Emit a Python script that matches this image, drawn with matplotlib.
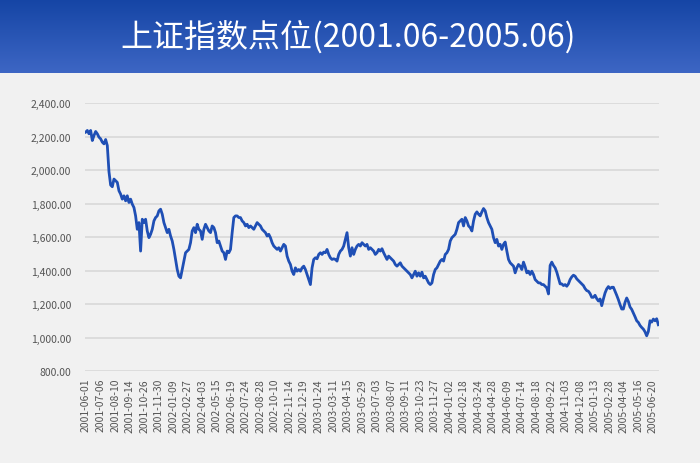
"""Shanghai Composite index level, 2001.06 - 2005.06 (recreated chart)."""

import matplotlib

matplotlib.use("Agg")
import matplotlib.pyplot as plt  # noqa: E402
import numpy as np  # noqa: E402
from matplotlib.colors import LinearSegmentedColormap  # noqa: E402
from matplotlib.ticker import FuncFormatter  # noqa: E402

plt.rcParams["font.family"] = ["Noto Sans CJK SC", "DejaVu Sans"]

TITLE = "上证指数点位(2001.06-2005.06)"

tick_dates = [
    "2001-06-01", "2001-07-06", "2001-08-10", "2001-09-14", "2001-10-26",
    "2001-11-30", "2002-01-09", "2002-02-27", "2002-04-03", "2002-05-15",
    "2002-06-19", "2002-07-24", "2002-08-28", "2002-10-10", "2002-11-14",
    "2002-12-19", "2003-01-24", "2003-03-11", "2003-04-15", "2003-05-29",
    "2003-07-03", "2003-08-07", "2003-09-11", "2003-10-23", "2003-11-27",
    "2004-01-02", "2004-02-18", "2004-03-24", "2004-04-28", "2004-06-09",
    "2004-07-14", "2004-08-18", "2004-09-22", "2004-11-03", "2004-12-08",
    "2005-01-13", "2005-02-28", "2005-04-04", "2005-05-16", "2005-06-20",
]

# index level at an even step along the x axis
index_2001 = [
    2226, 2236, 2216, 2236, 2176, 2206, 2230, 2216, 2196, 2186, 2166, 2156,
    2182, 2146, 1990, 1910, 1900, 1946, 1936, 1926, 1876, 1856, 1826, 1846,
    1816, 1846, 1806, 1826, 1796, 1776, 1726, 1646, 1686, 1516, 1706, 1686,
    1706, 1636, 1596, 1616, 1646, 1696, 1716, 1726, 1756, 1766, 1736, 1686,
    1656, 1626, 1646, 1606, 1576, 1526, 1466, 1406, 1366,
]
index_2002 = [
    1356, 1406, 1456, 1506, 1516, 1526, 1566, 1636, 1656, 1626, 1676, 1646,
    1636, 1586, 1646, 1676, 1656, 1636, 1626, 1666, 1656, 1626, 1566, 1576,
    1546, 1516, 1506, 1466, 1516, 1506, 1526, 1626, 1716, 1726, 1726, 1716,
    1716, 1696, 1686, 1666, 1676, 1656, 1666, 1656, 1646, 1666, 1686, 1676,
    1666, 1646, 1636, 1626, 1606, 1616, 1596, 1566, 1546,
]
index_2003 = [
    1536, 1526, 1536, 1516, 1536, 1556, 1546, 1486, 1456, 1436, 1396, 1376,
    1416, 1396, 1406, 1396, 1416, 1426, 1406, 1376, 1346, 1316, 1416, 1466,
    1476, 1470, 1496, 1506, 1496, 1510, 1506, 1526, 1496, 1476, 1466, 1470,
    1466, 1456, 1496, 1516, 1526, 1546, 1586, 1626, 1536, 1486, 1536, 1496,
    1526, 1546, 1556, 1546, 1566, 1556, 1546, 1556, 1526, 1536,
    1526, 1516, 1496, 1506, 1526, 1516, 1530, 1506, 1486, 1466, 1486, 1476,
    1466, 1456, 1436, 1426, 1436, 1446, 1426, 1416, 1406, 1396, 1386, 1376,
    1356, 1376, 1396, 1366, 1386, 1366, 1390, 1356, 1366, 1346, 1326, 1316,
    1326, 1376, 1406, 1416, 1436, 1456, 1466, 1456,
]
index_2004 = [
    1496, 1506, 1526, 1576, 1596, 1606, 1616, 1646, 1686, 1696, 1706, 1666,
    1716, 1696, 1666, 1656, 1636, 1696, 1736, 1750, 1736, 1726, 1750, 1770,
    1756, 1716, 1686, 1666, 1646, 1596, 1566, 1586, 1546, 1556, 1526, 1556,
    1570, 1516, 1466, 1446, 1436, 1426, 1386, 1416, 1436, 1426, 1406, 1450,
    1422, 1386, 1396, 1376, 1396, 1376, 1346, 1336, 1326, 1326, 1316, 1316,
    1306, 1296, 1260, 1430, 1450, 1430, 1416, 1390, 1356, 1320, 1320, 1310,
    1316, 1306, 1320, 1346, 1362, 1372, 1366, 1350, 1340, 1330, 1320, 1310,
    1292, 1280, 1276, 1262, 1240, 1240, 1252, 1232, 1218, 1230,
]
index_2005 = [
    1190, 1230, 1266, 1290, 1304, 1292, 1300, 1300, 1276, 1252, 1226, 1196,
    1170, 1170, 1210, 1236, 1215, 1182, 1168, 1146, 1124, 1100, 1090, 1072,
    1060, 1050, 1034, 1010, 1036, 1100, 1092, 1110, 1100, 1112, 1076,
]

values = index_2001 + index_2002 + index_2003 + index_2004 + index_2005

BG = "#f1f1f1"
LINE = "#1f4fb5"

fig = plt.figure(figsize=(7, 4.64), dpi=100, facecolor=BG)

# title banner with a vertical gradient
banner_h = 74 / 464
bax = fig.add_axes([0, 1 - banner_h, 1, banner_h])
cmap = LinearSegmentedColormap.from_list("banner", ["#1545a5", "#3d66c4"])
bax.imshow(np.linspace(0, 1, 64).reshape(-1, 1), aspect="auto", cmap=cmap,
           extent=[0, 1, 0, 1])
bax.set_axis_off()
bax.text(0.497, 0.50, TITLE, color="white", fontsize=23, ha="center", va="center",
         transform=bax.transAxes)

ax = fig.add_axes([85 / 700, 1 - 372 / 464, 574 / 700, 268 / 464])
ax.set_facecolor(BG)
x = np.arange(len(values))
ax.plot(x, values, color=LINE, lw=2.0, solid_joinstyle="round")

ax.set_ylim(800, 2400)
ax.set_yticks(np.arange(800, 2401, 200))
ax.yaxis.set_major_formatter(FuncFormatter(lambda v, _: f"{v:,.2f}"))
ax.grid(axis="y", color="#dadada", lw=1.3)
ax.set_axisbelow(True)

n = len(values)
ax.set_xlim(-0.4, n - 0.6)
ax.set_xticks(np.linspace(0.2, n - 4.3, len(tick_dates)))
ax.set_xticklabels(tick_dates, rotation=90)

for s in ax.spines.values():
    s.set_visible(False)
ax.tick_params(axis="y", length=0, pad=10, labelsize=7.5, labelcolor="#555555")
ax.tick_params(axis="x", length=0, pad=5, labelsize=7.5, labelcolor="#555555")

fig.savefig("out.png", dpi=100, facecolor=BG)
